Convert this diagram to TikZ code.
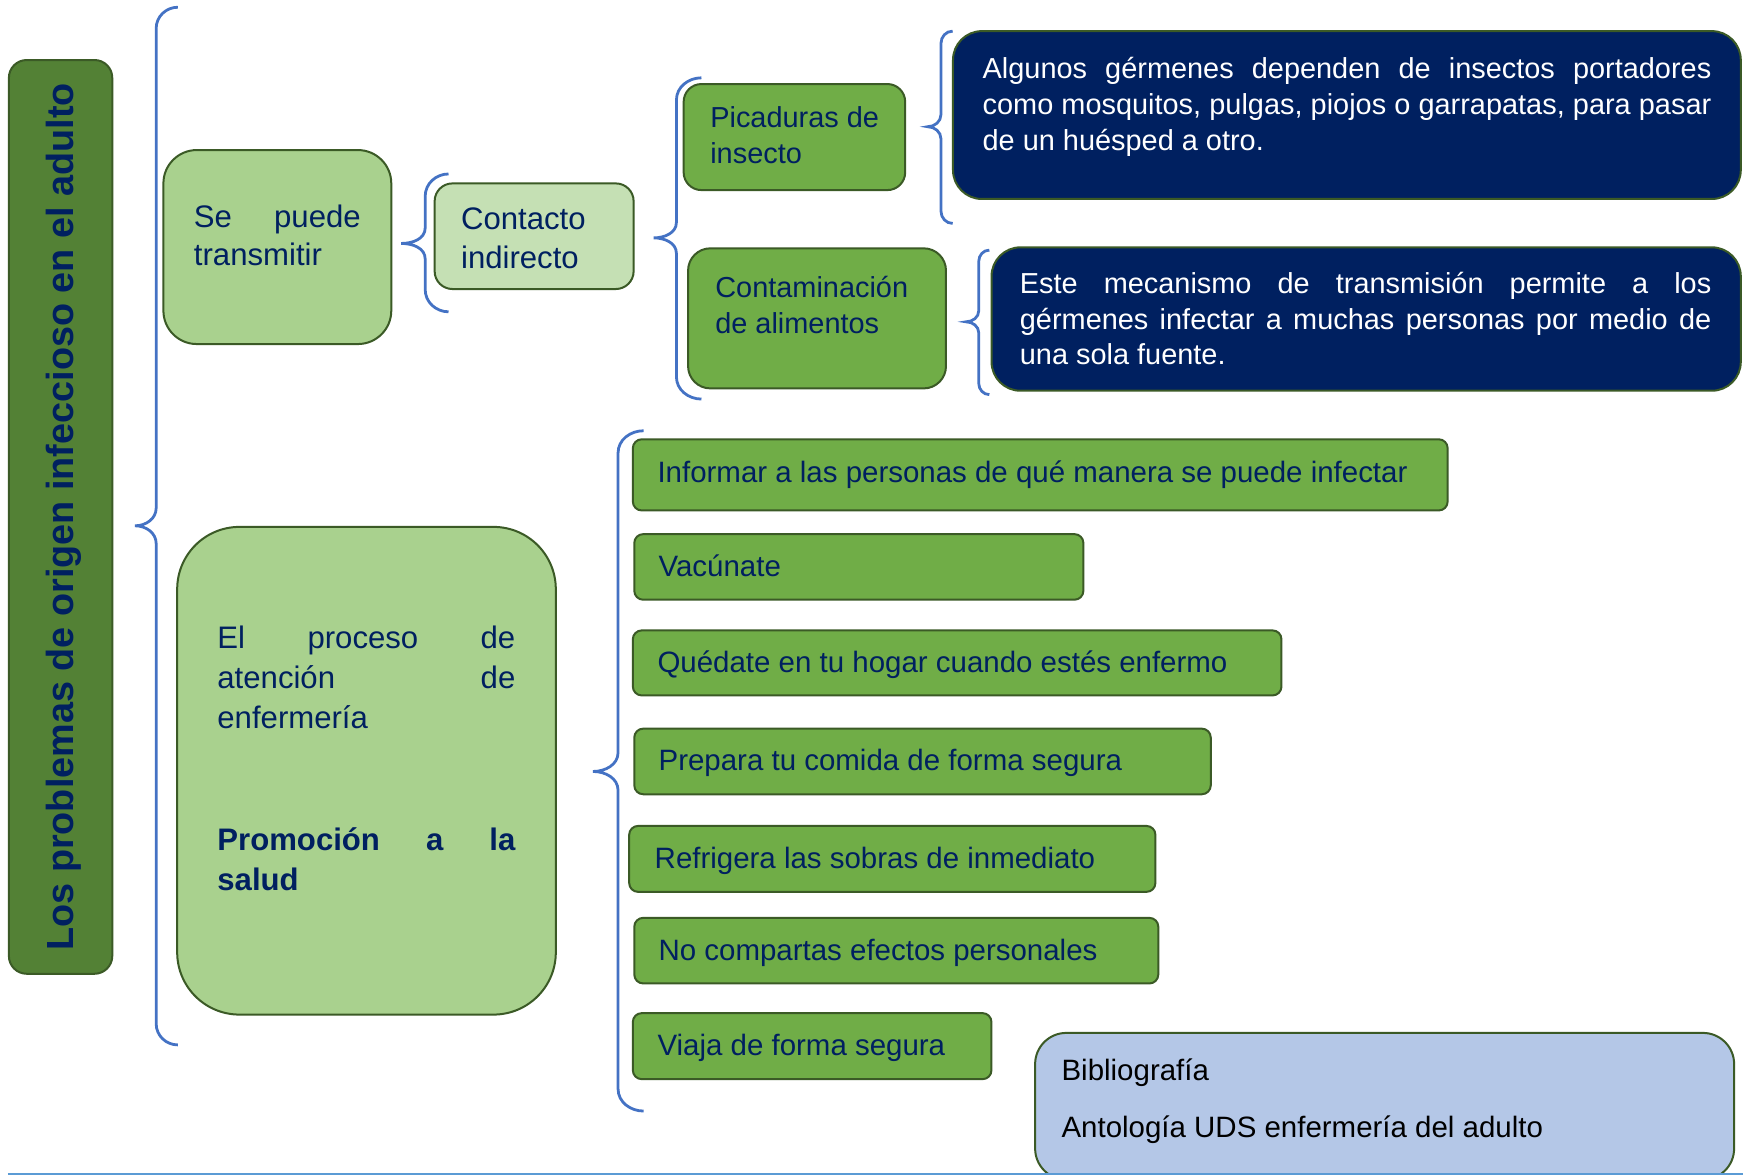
\documentclass[tikz,border=0pt]{standalone}
\usepackage{fontspec}
\setmainfont{Liberation Sans}
\definecolor{navy}{HTML}{002060}
\definecolor{darkgreen}{HTML}{538135}
\definecolor{lightgreen}{HTML}{A9D18E}
\definecolor{palegreen}{HTML}{C5E0B4}
\definecolor{midgreen}{HTML}{70AD47}
\definecolor{bordergreen}{HTML}{3B5A26}
\definecolor{braceblue}{HTML}{4472C4}
\definecolor{paleblue}{HTML}{B4C7E7}
\definecolor{lineblue}{HTML}{5B9BD5}
\hyphenpenalty=10000
\exhyphenpenalty=10000
\tolerance=10000
\hbadness=10000
\begin{document}
\begin{tikzpicture}[x=1pt,y=-1pt,
  box/.style={draw=bordergreen, line width=1.8pt, inner sep=0pt, outer sep=0pt, anchor=north west},
  lgbox/.style={box, fill=lightgreen},
  pgbox/.style={box, fill=palegreen},
  mgbox/.style={box, fill=midgreen},
  nvbox/.style={box, fill=navy, rounded corners=26pt},
  itembox/.style={mgbox, rounded corners=8pt},
  txt/.style={inner sep=0pt, outer sep=0pt, anchor=base west, text=navy},
  f26/.style={font=\fontsize{26}{32}\selectfont},
  fitem/.style={font=\fontsize{26.5}{32}\selectfont},
  f28/.style={font=\fontsize{28}{34}\selectfont},
  wtxt/.style={txt, f26, text=white, align=justify},
  brace/.style={draw=braceblue, line width=2.5pt}
]
\clip (0,0) rectangle (1568,1057);
\fill[white] (0,0) rectangle (1568,1057);

% title
\node[box, fill=darkgreen, rounded corners=16pt, minimum width=93pt, minimum height=822pt] (title) at (8,54) {};
\node[rotate=90, inner sep=0pt, text=navy, font=\fontsize{34}{40}\selectfont\bfseries] (ttitle) at (57,465) {Los problemas de origen infeccioso en el adulto};

% braces
\draw[brace] (160,6.5) to[out=180,in=90] (140.5,25.5) -- (140.5,457) to[out=-90,in=0] (121.5,473) to[out=0,in=90] (140.5,489) -- (140.5,921) to[out=-90,in=180] (160,940);
\draw[brace] (403.5,156.5) to[out=180,in=90] (382.5,176.5) -- (382.5,205) to[out=-90,in=0] (361,219) to[out=0,in=90] (382.5,233) -- (382.5,260.5) to[out=-90,in=180] (403.5,280.5);
\draw[brace] (631,70) to[out=180,in=90] (608.5,90) -- (608.5,200) to[out=-90,in=0] (588,214) to[out=0,in=90] (608.5,228) -- (608.5,339) to[out=-90,in=180] (631,359);
\draw[brace] (857,28) to[out=180,in=90] (846.5,39) -- (846.5,103) to[out=-90,in=0] (834.5,114) to[out=0,in=90] (846.5,125) -- (846.5,190) to[out=-90,in=180] (857,201);
\draw[brace] (890,225) to[out=180,in=90] (880.5,235) -- (880.5,279.5) to[out=-90,in=0] (869,289.5) to[out=0,in=90] (880.5,299.5) -- (880.5,345) to[out=-90,in=180] (890,355);
\draw[brace] (579,387.5) to[out=180,in=90] (556,407.5) -- (556,677) to[out=-90,in=0] (533.5,694) to[out=0,in=90] (556,711) -- (556,979.5) to[out=-90,in=180] (579,999.5);

% se puede transmitir
\node[lgbox, rounded corners=30pt, minimum width=205pt, minimum height=174.5pt] (sepuede) at (147,135) {};
\node[txt, f28, text width=150pt, align=justify] (tsepuede) at (174.5,204.8) {Se puede\linebreak transmitir};

% contacto indirecto
\node[pgbox, rounded corners=16pt, minimum width=179pt, minimum height=95pt] (contacto) at (391,165) {};
\node[txt, f28] (tcontacto1) at (414.8,206.9) {Contacto};
\node[txt, f28] (tcontacto2) at (414.8,241.5) {indirecto};

% picaduras
\node[mgbox, rounded corners=16pt, minimum width=199.3pt, minimum height=95.4pt] (picad) at (615,75.6) {};
\node[txt, f26] (tpicad1) at (639,115) {Picaduras de};
\node[txt, f26] (tpicad2) at (639,147) {insecto};

% navy 1
\node[nvbox, minimum width=708.7pt, minimum height=151pt] (navy1) at (857.3,28) {};
\node[wtxt, text width=655.5pt] (tnavy1) at (884,71) {Algunos gérmenes dependen de insectos portadores\linebreak como mosquitos, pulgas, piojos o garrapatas, para pasar\linebreak de un huésped a otro.};

% contaminacion
\node[mgbox, rounded corners=20pt, minimum width=232pt, minimum height=126pt] (contam) at (619,223.4) {};
\node[txt, f26] (tcontam1) at (643.5,268) {Contaminación};
\node[txt, f26] (tcontam2) at (643.5,300) {de alimentos};

% navy 2
\node[nvbox, minimum width=674pt, minimum height=129pt] (navy2) at (892,222.5) {};
\node[wtxt, text width=622pt] (tnavy2) at (917.5,264) {Este mecanismo de transmisión permite a los\linebreak gérmenes infectar a muchas personas por medio de\linebreak una sola fuente.};

% proceso
\node[lgbox, rounded corners=56pt, minimum width=340.6pt, minimum height=438.7pt] (proceso) at (159.4,474) {};
\node[txt, font=\fontsize{28}{36}\selectfont, text width=268pt, align=justify] (tproceso) at (195.6,583.6) {El proceso de\linebreak atención de\linebreak enfermería};
\node[txt, font=\fontsize{28}{36}\selectfont\bfseries, text width=268pt, align=justify] (tpromo) at (195.6,764.7) {Promoción a la\linebreak salud};

% items
\node[itembox, minimum width=733pt, minimum height=64pt] (inf) at (569.3,395.2) {};
\node[txt, fitem] (tinf) at (591.5,434) {Informar a las personas de qué manera se puede infectar};
\node[itembox, minimum width=404pt, minimum height=59pt] (vac) at (570.6,480.5) {};
\node[txt, fitem] (tvac) at (592.5,518.5) {Vacúnate};
\node[itembox, minimum width=583.5pt, minimum height=58.5pt] (qued) at (569.3,567.1) {};
\node[txt, fitem] (tqued) at (591.5,605) {Quédate en tu hogar cuando estés enfermo};
\node[itembox, minimum width=518.6pt, minimum height=59pt] (prep) at (570.6,655.5) {};
\node[txt, fitem] (tprep) at (592.5,693.5) {Prepara tu comida de forma segura};
\node[itembox, minimum width=473.4pt, minimum height=59.3pt] (refr) at (566,743) {};
\node[txt, fitem] (trefr) at (589,781.5) {Refrigera las sobras de inmediato};
\node[itembox, minimum width=471.4pt, minimum height=59pt] (nocomp) at (570.6,825.7) {};
\node[txt, fitem] (tnocomp) at (592.5,864) {No compartas efectos personales};
\node[itembox, minimum width=322.6pt, minimum height=59.4pt] (viaja) at (569.3,911.4) {};
\node[txt, fitem] (tviaja) at (591.5,949.5) {Viaja de forma segura};

% bibliografia
\node[box, fill=paleblue, rounded corners=28pt, minimum width=628.8pt, minimum height=132pt] (biblio) at (931.2,929.2) {};
\node[txt, fitem, text=black] (tbiblio1) at (955,972) {Bibliografía};
\node[txt, fitem, text=black] (tbiblio2) at (955,1023) {Antología UDS enfermería del adulto};

% bottom rule
\coordinate (ruleA) at (7,1055.8);
\coordinate (ruleB) at (1568,1055.8);
\draw[draw=lineblue, line width=1.6pt] (ruleA) -- (ruleB);
\end{tikzpicture}
\end{document}
